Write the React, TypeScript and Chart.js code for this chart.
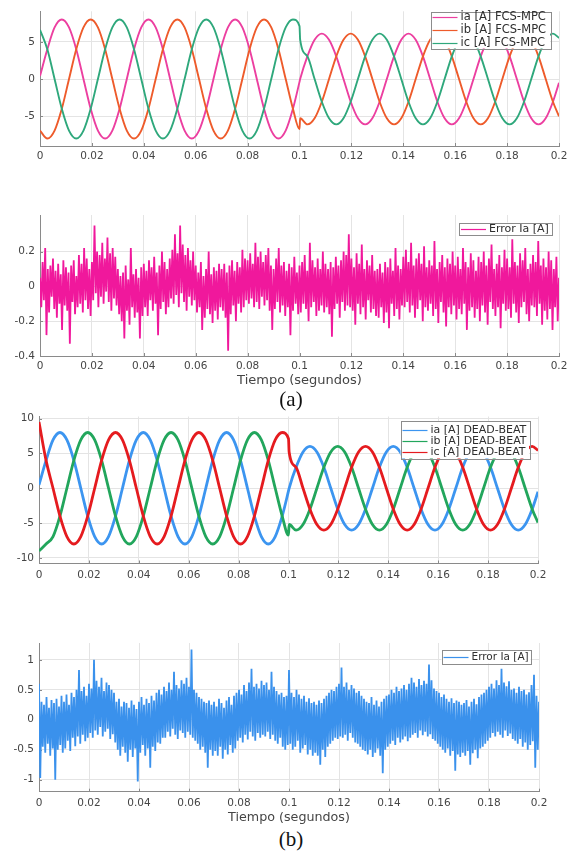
import { useEffect, useRef } from 'react';
import { Chart, registerables } from 'chart.js';

Chart.register(...registerables);

// ---------------- tick values / labels ----------------
const timeTicks = [0, 0.02, 0.04, 0.06, 0.08, 0.1, 0.12, 0.14, 0.16, 0.18, 0.2];
const timeTickLabels = ['0', '0.02', '0.04', '0.06', '0.08', '0.1', '0.12', '0.14', '0.16', '0.18', '0.2'];
const currentTicksFcs = [-5, 0, 5];
const currentTickLabelsFcs = ['-5', '0', '5'];
const errorTicksFcs = [-0.4, -0.2, 0, 0.2];
const errorTickLabelsFcs = ['-0.4', '-0.2', '0', '0.2'];
const currentTicksDb = [-10, -5, 0, 5, 10];
const currentTickLabelsDb = ['-10', '-5', '0', '5', '10'];
const errorTicksDb = [-1, -0.5, 0, 0.5, 1];
const errorTickLabelsDb = ['-1', '-0.5', '0', '0.5', '1'];

// ---------------- phase currents (read at sample instants) ----------------
const phaseTimes = [
  0, 0.00283, 0.00562, 0.0084, 0.01118, 0.01397, 0.01675, 0.01953, 0.02232, 0.0251, 0.02788, 0.03067,
  0.03345, 0.03623, 0.03902, 0.0418, 0.04458, 0.04737, 0.05015, 0.05293, 0.05572, 0.0585, 0.06128, 0.06407,
  0.06685, 0.06963, 0.07242, 0.0752, 0.07798, 0.08077, 0.08355, 0.08633, 0.08912, 0.0919, 0.09468, 0.09747,
  0.1,
  0.10025, 0.10303, 0.10582, 0.1086, 0.11138, 0.11417, 0.11695, 0.11973, 0.12252, 0.1253, 0.12808, 0.13087,
  0.13365, 0.13643, 0.13922, 0.142, 0.14478, 0.14757, 0.15035, 0.15313, 0.15592, 0.1587, 0.16148, 0.16427,
  0.16705, 0.16983, 0.17262, 0.1754, 0.17818, 0.18097, 0.18375, 0.18653, 0.18932, 0.1921, 0.19488, 0.19767,
  0.2,
];

const iaFcs = [
  0.4, 4, 6.93, 8, 6.93, 4, 0, -4, -6.93, -8, -6.93, -4,
  0, 4, 6.93, 8, 6.93, 4, 0, -4, -6.93, -8, -6.93, -4,
  0, 4, 6.93, 8, 6.93, 4, 0, -4, -6.93, -8, -6.93, -4,
  -0.38,
  0, 3.05, 5.28, 6.1, 5.28, 3.05, 0, -3.05, -5.28, -6.1, -5.28, -3.05,
  0, 3.05, 5.28, 6.1, 5.28, 3.05, 0, -3.05, -5.28, -6.1, -5.28, -3.05,
  0, 3.05, 5.28, 6.1, 5.28, 3.05, 0, -3.05, -5.28, -6.1, -5.28, -3.05,
  -0.51,
];
const ibFcs = [
  -6.93, -8, -6.93, -4, 0, 4, 6.93, 8, 6.93, 4, 0, -4,
  -6.93, -8, -6.93, -4, 0, 4, 6.93, 8, 6.93, 4, 0, -4,
  -6.93, -8, -6.93, -4, 0, 4, 6.93, 8, 6.93, 4, 0, -4,
  -6.73,
  -5.28, -6.1, -5.28, -3.05, 0, 3.05, 5.28, 6.1, 5.28, 3.05, 0, -3.05,
  -5.28, -6.1, -5.28, -3.05, 0, 3.05, 5.28, 6.1, 5.28, 3.05, 0, -3.05,
  -5.28, -6.1, -5.28, -3.05, 0, 3.05, 5.28, 6.1, 5.28, 3.05, 0, -3.05,
  -5.01,
];
const icFcs = [
  6.6, 4, 0, -4, -6.93, -8, -6.93, -4, 0, 4, 6.93, 8,
  6.93, 4, 0, -4, -6.93, -8, -6.93, -4, 0, 4, 6.93, 8,
  6.93, 4, 0, -4, -6.93, -8, -6.93, -4, 0, 4, 6.93, 8,
  7.11,
  5.28, 3.05, 0, -3.05, -5.28, -6.1, -5.28, -3.05, 0, 3.05, 5.28, 6.1,
  5.28, 3.05, 0, -3.05, -5.28, -6.1, -5.28, -3.05, 0, 3.05, 5.28, 6.1,
  5.28, 3.05, 0, -3.05, -5.28, -6.1, -5.28, -3.05, 0, 3.05, 5.28, 6.1,
  5.52,
];

const iaDb = [
  0.5, 4, 6.93, 8, 6.93, 4, 0, -4, -6.93, -8, -6.93, -4,
  0, 4, 6.93, 8, 6.93, 4, 0, -4, -6.93, -8, -6.93, -4,
  0, 4, 6.93, 8, 6.93, 4, 0, -4, -6.93, -8, -6.93, -4,
  -0.38,
  0, 3, 5.2, 6, 5.2, 3, 0, -3, -5.2, -6, -5.2, -3,
  0, 3, 5.2, 6, 5.2, 3, 0, -3, -5.2, -6, -5.2, -3,
  0, 3, 5.2, 6, 5.2, 3, 0, -3, -5.2, -6, -5.2, -3,
  -0.5,
];
const ibDb = [
  -9, -8, -6.93, -4, 0, 4, 6.93, 8, 6.93, 4, 0, -4,
  -6.93, -8, -6.93, -4, 0, 4, 6.93, 8, 6.93, 4, 0, -4,
  -6.93, -8, -6.93, -4, 0, 4, 6.93, 8, 6.93, 4, 0, -4,
  -6.73,
  -5.2, -6, -5.2, -3, 0, 3, 5.2, 6, 5.2, 3, 0, -3,
  -5.2, -6, -5.2, -3, 0, 3, 5.2, 6, 5.2, 3, 0, -3,
  -5.2, -6, -5.2, -3, 0, 3, 5.2, 6, 5.2, 3, 0, -3,
  -4.93,
];
const icDb = [
  9.5, 4, 0, -4, -6.93, -8, -6.93, -4, 0, 4, 6.93, 8,
  6.93, 4, 0, -4, -6.93, -8, -6.93, -4, 0, 4, 6.93, 8,
  6.93, 4, 0, -4, -6.93, -8, -6.93, -4, 0, 4, 6.93, 8,
  7.11,
  5.2, 3, 0, -3, -5.2, -6, -5.2, -3, 0, 3, 5.2, 6,
  5.2, 3, 0, -3, -5.2, -6, -5.2, -3, 0, 3, 5.2, 6,
  5.2, 3, 0, -3, -5.2, -6, -5.2, -3, 0, 3, 5.2, 6,
  5.43,
];

// ---------------- tracking errors (sample interval 0.5 ms) ----------------
const errorSampleStep = 0.0005;

const errorIaFcs = [
  0.05, -0.12, 0.14, -0.08, 0.22, -0.28, 0.1, -0.15, 0.12, -0.06, 0.16, -0.13, 0.09, -0.18, 0.13, -0.1, 0.07, -0.25, 0.15, -0.11,
  0.11, -0.14, 0.08, -0.33, 0.12, -0.09, 0.15, -0.16, 0.06, -0.12, 0.18, -0.1, 0.13, -0.15, 0.22, -0.08, 0.16, -0.13, 0.1, -0.17,
  0.14, -0.08, 0.35, -0.04, 0.2, -0.12, 0.18, -0.06, 0.25, -0.1, 0.16, -0.03, 0.28, -0.09, 0.19, -0.14, 0.22, -0.07, 0.17, -0.11,
  0.1, -0.16, 0.06, -0.2, 0.08, -0.3, 0.12, -0.14, 0.04, -0.22, 0.22, -0.12, 0.07, -0.18, 0.1, -0.15, 0.05, -0.3, 0.11, -0.17,
  0.13, -0.12, 0.09, -0.17, 0.15, -0.08, 0.11, -0.14, 0.17, -0.1, 0.08, -0.28, 0.12, -0.13, 0.2, -0.09, 0.14, -0.16, 0.1, -0.12,
  0.16, -0.07, 0.21, -0.1, 0.3, -0.05, 0.19, -0.12, 0.35, -0.04, 0.24, -0.09, 0.18, -0.14, 0.22, -0.06, 0.15, -0.11, 0.2, -0.08,
  0.12, -0.15, 0.08, -0.12, 0.14, -0.25, 0.06, -0.18, 0.1, -0.13, 0.2, -0.16, 0.07, -0.21, 0.11, -0.14, 0.09, -0.19, 0.13, -0.12,
  0.1, -0.14, 0.13, -0.18, 0.08, -0.37, 0.12, -0.16, 0.15, -0.11, 0.09, -0.2, 0.14, -0.1, 0.11, -0.15, 0.21, -0.12, 0.16, -0.08,
  0.15, -0.1, 0.19, -0.07, 0.13, -0.12, 0.25, -0.09, 0.17, -0.13, 0.2, -0.06, 0.14, -0.11, 0.18, -0.08, 0.22, -0.14, 0.12, -0.25,
  0.1, -0.13, 0.16, -0.09, 0.22, -0.15, 0.12, -0.11, 0.14, -0.17, 0.09, -0.12, 0.13, -0.28, 0.11, -0.14, 0.17, -0.1, 0.08, -0.16,
  0.12, -0.15, 0.14, -0.1, 0.18, -0.13, 0.09, -0.2, 0.25, -0.12, 0.15, -0.09, 0.11, -0.17, 0.16, -0.14, 0.1, -0.11, 0.2, -0.15,
  0.13, -0.12, 0.1, -0.16, 0.14, -0.29, 0.11, -0.13, 0.17, -0.1, 0.12, -0.18, 0.15, -0.09, 0.2, -0.14, 0.18, -0.11, 0.3, -0.12,
  0.16, -0.14, 0.11, -0.22, 0.19, -0.1, 0.13, -0.16, 0.24, -0.12, 0.1, -0.19, 0.15, -0.08, 0.12, -0.15, 0.18, -0.13, 0.09, -0.17,
  0.1, -0.18, 0.13, -0.12, 0.08, -0.21, 0.14, -0.15, 0.11, -0.24, 0.16, -0.1, 0.09, -0.17, 0.22, -0.13, 0.12, -0.19, 0.1, -0.11,
  0.17, -0.12, 0.21, -0.09, 0.14, -0.15, 0.25, -0.11, 0.12, -0.18, 0.16, -0.13, 0.19, -0.08, 0.13, -0.2, 0.23, -0.12, 0.11, -0.14,
  0.15, -0.1, 0.12, -0.17, 0.26, -0.13, 0.1, -0.21, 0.14, -0.09, 0.18, -0.15, 0.11, -0.23, 0.16, -0.12, 0.13, -0.16, 0.2, -0.11,
  0.12, -0.19, 0.17, -0.13, 0.1, -0.16, 0.22, -0.1, 0.14, -0.25, 0.11, -0.14, 0.19, -0.12, 0.15, -0.18, 0.09, -0.13, 0.17, -0.2,
  0.14, -0.11, 0.2, -0.15, 0.12, -0.22, 0.16, -0.09, 0.24, -0.13, 0.1, -0.17, 0.13, -0.12, 0.18, -0.24, 0.11, -0.1, 0.21, -0.14,
  0.16, -0.13, 0.11, -0.18, 0.27, -0.1, 0.14, -0.15, 0.12, -0.21, 0.19, -0.12, 0.15, -0.09, 0.22, -0.16, 0.1, -0.2, 0.13, -0.11,
  0.18, -0.12, 0.14, -0.17, 0.26, -0.1, 0.12, -0.22, 0.16, -0.14, 0.11, -0.19, 0.2, -0.13, 0.15, -0.25, 0.1, -0.12, 0.17, -0.2,
  0.05,
];

const errorIaDb = [
  0.6, -0.97, 0.3, -0.45, 0.25, -0.55, 0.38, -0.4, 0.2, -0.6, 0.33, -0.48, 0.28, -1.0, 0.35, -0.5, 0.22, -0.42, 0.4, -0.55,
  0.3, -0.48, 0.42, -0.35, 0.25, -0.52, 0.45, -0.3, 0.38, -0.44, 0.5, -0.28, 0.83, -0.4, 0.48, -0.25, 0.55, -0.36, 0.4, -0.3,
  0.6, -0.22, 0.52, -0.3, 1.0, -0.18, 0.65, -0.25, 0.55, -0.12, 0.7, -0.28, 0.48, -0.2, 0.62, -0.15, 0.58, -0.32, 0.5, -0.24,
  0.45, -0.38, 0.3, -0.5, 0.35, -0.6, 0.22, -0.45, 0.3, -0.55, 0.28, -0.7, 0.2, -0.5, 0.32, -0.62, 0.25, -0.48, 0.18, -1.03,
  0.3, -0.55, 0.38, -0.42, 0.25, -0.6, 0.35, -0.48, 0.28, -0.8, 0.4, -0.45, 0.32, -0.52, 0.45, -0.38, 0.5, -0.4, 0.42, -0.3,
  0.55, -0.3, 0.48, -0.2, 0.62, -0.28, 0.5, -0.15, 0.8, -0.25, 0.58, -0.32, 0.52, -0.18, 0.66, -0.22, 0.6, -0.3, 0.7, -0.2,
  0.55, -0.25, 1.17, -0.3, 0.5, -0.35, 0.45, -0.4, 0.38, -0.5, 0.35, -0.45, 0.3, -0.55, 0.28, -0.8, 0.32, -0.5, 0.25, -0.6,
  0.3, -0.52, 0.22, -0.6, 0.35, -0.45, 0.28, -0.65, 0.2, -0.5, 0.32, -0.58, 0.38, -0.42, 0.25, -0.55, 0.4, -0.48, 0.45, -0.35,
  0.5, -0.3, 0.42, -0.38, 0.58, -0.25, 0.48, -0.33, 0.62, -0.2, 0.85, -0.28, 0.55, -0.35, 0.6, -0.22, 0.52, -0.3, 0.65, -0.25,
  0.58, -0.28, 0.62, -0.2, 0.5, -0.32, 0.8, -0.25, 0.55, -0.35, 0.48, -0.4, 0.42, -0.3, 0.45, -0.45, 0.38, -0.5, 0.4, -0.42,
  0.83, -0.4, 0.45, -0.5, 0.38, -0.45, 0.5, -0.35, 0.42, -0.55, 0.35, -0.48, 0.4, -0.42, 0.3, -0.58, 0.36, -0.5, 0.28, -0.6,
  0.3, -0.55, 0.25, -0.6, 0.32, -0.75, 0.28, -0.5, 0.35, -0.62, 0.4, -0.45, 0.45, -0.4, 0.5, -0.35, 0.48, -0.3, 0.55, -0.32,
  0.6, -0.28, 0.87, -0.3, 0.55, -0.25, 0.62, -0.35, 0.5, -0.22, 0.58, -0.3, 0.52, -0.38, 0.45, -0.4, 0.48, -0.45, 0.4, -0.5,
  0.35, -0.52, 0.3, -0.58, 0.28, -0.5, 0.38, -0.62, 0.25, -0.55, 0.32, -0.48, 0.22, -0.6, 0.3, -0.89, 0.35, -0.5, 0.4, -0.45,
  0.42, -0.4, 0.5, -0.35, 0.45, -0.42, 0.55, -0.3, 0.48, -0.38, 0.52, -0.33, 0.58, -0.28, 0.5, -0.36, 0.6, -0.3, 0.7, -0.25,
  0.62, -0.22, 0.55, -0.3, 0.68, -0.18, 0.58, -0.26, 0.65, -0.2, 0.6, -0.28, 0.92, -0.24, 0.66, -0.32, 0.52, -0.35, 0.48, -0.4,
  0.45, -0.45, 0.38, -0.5, 0.42, -0.55, 0.35, -0.48, 0.3, -0.6, 0.36, -0.52, 0.28, -0.85, 0.32, -0.58, 0.3, -0.62, 0.25, -0.55,
  0.28, -0.6, 0.33, -0.52, 0.22, -0.75, 0.3, -0.56, 0.35, -0.5, 0.26, -0.64, 0.38, -0.48, 0.42, -0.45, 0.45, -0.4, 0.5, -0.35,
  0.55, -0.3, 0.6, -0.22, 0.52, -0.28, 0.66, -0.2, 0.58, -0.25, 0.85, -0.3, 0.62, -0.18, 0.56, -0.27, 0.64, -0.23, 0.5, -0.32,
  0.52, -0.35, 0.45, -0.4, 0.55, -0.32, 0.48, -0.45, 0.5, -0.38, 0.42, -0.5, 0.46, -0.42, 0.58, -0.36, 0.75, -0.8, 0.4, -0.5,
  0.3,
];

// ---------------- rendering ----------------
const FONT = '"DejaVu Sans", "Liberation Sans", sans-serif';
const AXIS_COLOR = '#8a8a8a';
const GRID_COLOR = '#e4e4e4';
const TEXT_COLOR = '#454545';

type Series = { label: string; color: string; width: number; times: number[]; values: number[]; smooth: boolean };
type LegendSpec = { left: number; top: number; width: number; height: number; rowStart: number; rowGap: number; fontSize: number };
type PanelSpec = {
  top: number; height: number; padTop: number; padRight: number; yAxisWidth: number; xAxisHeight: number;
  xTickPadding: number; yMin: number; yMax: number; yTicks: number[]; yLabels: string[];
  title?: string; titleSize?: number; series: Series[]; legend: LegendSpec;
};

const errorTimesFcs = errorIaFcs.map((_, i) => i * errorSampleStep);
const errorTimesDb = errorIaDb.map((_, i) => i * errorSampleStep);

const panels: PanelSpec[] = [
  {
    top: 0, height: 172, padTop: 7, padRight: 14, yAxisWidth: 40, xAxisHeight: 26, xTickPadding: 4.4,
    yMin: -9, yMax: 9.1, yTicks: currentTicksFcs, yLabels: currentTickLabelsFcs,
    series: [
      { label: 'ia [A] FCS-MPC', color: '#ec3fa0', width: 1.9, times: phaseTimes, values: iaFcs, smooth: true },
      { label: 'ib [A] FCS-MPC', color: '#ee5b2b', width: 1.9, times: phaseTimes, values: ibFcs, smooth: true },
      { label: 'ic [A] FCS-MPC', color: '#2fa87c', width: 1.9, times: phaseTimes, values: icFcs, smooth: true },
    ],
    legend: { left: 430.5, top: 11.5, width: 119.5, height: 37, rowStart: 5.5, rowGap: 13, fontSize: 11.5 },
  },
  {
    top: 200, height: 188, padTop: 15, padRight: 14, yAxisWidth: 40, xAxisHeight: 32, xTickPadding: 4.4,
    yMin: -0.4, yMax: 0.41, yTicks: errorTicksFcs, yLabels: errorTickLabelsFcs,
    title: 'Tiempo (segundos)', titleSize: 13,
    series: [
      { label: 'Error Ia [A]', color: '#f0189c', width: 1.8, times: errorTimesFcs, values: errorIaFcs, smooth: false },
    ],
    legend: { left: 459, top: 222.5, width: 93, height: 12, rowStart: 6, rowGap: 0, fontSize: 11 },
  },
  {
    top: 405, height: 180, padTop: 11.5, padRight: 35, yAxisWidth: 39, xAxisHeight: 21.5, xTickPadding: 5.7,
    yMin: -10.8, yMax: 10.3, yTicks: currentTicksDb, yLabels: currentTickLabelsDb,
    series: [
      { label: 'ia [A] DEAD-BEAT', color: '#3c95f0', width: 2.8, times: phaseTimes, values: iaDb, smooth: true },
      { label: 'ib [A] DEAD-BEAT', color: '#22a65c', width: 2.8, times: phaseTimes, values: ibDb, smooth: true },
      { label: 'ic [A] DEAD-BEAT', color: '#e51b1f', width: 2.8, times: phaseTimes, values: icDb, smooth: true },
    ],
    legend: { left: 400.5, top: 421, width: 128.5, height: 37.5, rowStart: 8.5, rowGap: 11, fontSize: 11 },
  },
  {
    top: 630, height: 195, padTop: 13, padRight: 34, yAxisWidth: 39, xAxisHeight: 33.3, xTickPadding: 5.3,
    yMin: -1.2, yMax: 1.28, yTicks: errorTicksDb, yLabels: errorTickLabelsDb,
    title: 'Tiempo (segundos)', titleSize: 12.7,
    series: [
      { label: 'Error Ia [A]', color: '#3a91ec', width: 1.8, times: errorTimesDb, values: errorIaDb, smooth: false },
    ],
    legend: { left: 441.5, top: 650, width: 89, height: 13.5, rowStart: 6.8, rowGap: 0, fontSize: 10.5 },
  },
];

function innerTicksPlugin() {
  return {
    id: 'innerTicks',
    beforeDatasetsDraw(chart: any) {
      const { ctx, chartArea: a, scales } = chart;
      ctx.save();
      ctx.strokeStyle = AXIS_COLOR;
      ctx.lineWidth = 1;
      ctx.beginPath();
      for (const t of scales.x.ticks) {
        const px = Math.round(scales.x.getPixelForValue(t.value)) + 0.5;
        ctx.moveTo(px, a.bottom);
        ctx.lineTo(px, a.bottom - 3);
      }
      for (const t of scales.y.ticks) {
        const py = Math.round(scales.y.getPixelForValue(t.value)) + 0.5;
        ctx.moveTo(a.left, py);
        ctx.lineTo(a.left + 3, py);
      }
      ctx.stroke();
      ctx.restore();
    },
  };
}

function boxLegendPlugin(spec: LegendSpec, canvasTop: number, series: Series[]) {
  return {
    id: 'boxLegend',
    afterDraw(chart: any) {
      const ctx = chart.ctx as CanvasRenderingContext2D;
      const left = spec.left;
      const top = spec.top - canvasTop;
      ctx.save();
      ctx.fillStyle = '#ffffff';
      ctx.fillRect(left, top, spec.width, spec.height);
      ctx.strokeStyle = '#8c8c8c';
      ctx.lineWidth = 1;
      ctx.strokeRect(Math.round(left) + 0.5, Math.round(top) + 0.5, Math.round(spec.width), Math.round(spec.height));
      ctx.font = `${spec.fontSize}px ${FONT}`;
      ctx.textBaseline = 'middle';
      ctx.textAlign = 'left';
      series.forEach((s, i) => {
        const y = Math.round(top + spec.rowStart + i * spec.rowGap) + 0.5;
        ctx.beginPath();
        ctx.strokeStyle = s.color;
        ctx.lineWidth = 1.2;
        ctx.moveTo(left + 2, y);
        ctx.lineTo(left + 27, y);
        ctx.stroke();
        ctx.fillStyle = '#2e2e2e';
        ctx.fillText(s.label, left + 30, y);
      });
      ctx.restore();
    },
  };
}

function Panel({ spec }: { spec: PanelSpec }) {
  const ref = useRef<HTMLCanvasElement | null>(null);
  useEffect(() => {
    if (!ref.current) return;
    const n = spec.series.length;
    const chart = new Chart(ref.current, {
      type: 'line',
      data: {
        datasets: spec.series.map((s, i) => ({
          label: s.label,
          data: s.times.map((t, j) => ({ x: t, y: s.values[j] })),
          borderColor: s.color,
          backgroundColor: s.color,
          borderWidth: s.width,
          pointRadius: 0,
          pointHoverRadius: 0,
          fill: false,
          tension: s.smooth ? 0.4 : 0,
          cubicInterpolationMode: s.smooth ? 'monotone' : 'default',
          order: n - i,
        })),
      },
      options: {
        responsive: false,
        animation: false,
        devicePixelRatio: 1,
        events: [],
        layout: { padding: { top: spec.padTop, right: spec.padRight, left: 0, bottom: 0 } },
        plugins: { legend: { display: false }, tooltip: { enabled: false }, title: { display: false } },
        scales: {
          x: {
            type: 'linear',
            min: 0,
            max: 0.2,
            afterBuildTicks: (axis: any) => { axis.ticks = timeTicks.map((v) => ({ value: v })); },
            afterFit: (axis: any) => { axis.height = spec.xAxisHeight; },
            ticks: {
              autoSkip: false,
              maxRotation: 0,
              minRotation: 0,
              padding: spec.xTickPadding,
              color: TEXT_COLOR,
              font: { family: FONT, size: 10.5 },
              callback: (_v: any, i: number) => timeTickLabels[i],
            },
            grid: { color: GRID_COLOR, drawTicks: false, lineWidth: 1 },
            border: { display: true, color: AXIS_COLOR, width: 1 },
            title: spec.title
              ? { display: true, text: spec.title, color: TEXT_COLOR, padding: 0, font: { family: FONT, size: spec.titleSize } }
              : { display: false },
          },
          y: {
            type: 'linear',
            min: spec.yMin,
            max: spec.yMax,
            afterBuildTicks: (axis: any) => { axis.ticks = spec.yTicks.map((v) => ({ value: v })); },
            afterFit: (axis: any) => { axis.width = spec.yAxisWidth; },
            ticks: {
              padding: 5,
              color: TEXT_COLOR,
              font: { family: FONT, size: 10.5 },
              callback: (_v: any, i: number) => spec.yLabels[i],
            },
            grid: { color: GRID_COLOR, drawTicks: false, lineWidth: 1 },
            border: { display: true, color: AXIS_COLOR, width: 1 },
          },
        },
      } as any,
      plugins: [innerTicksPlugin(), boxLegendPlugin(spec.legend, spec.top, spec.series)],
    });
    return () => chart.destroy();
  }, [spec]);
  return (
    <canvas
      ref={ref}
      width={573}
      height={spec.height}
      style={{ position: 'absolute', left: 0, top: spec.top, width: 573, height: spec.height }}
    />
  );
}

const captionStyle = {
  position: 'absolute' as const,
  left: 278,
  width: 26,
  textAlign: 'center' as const,
  fontFamily: '"Liberation Serif", "Times New Roman", serif',
  fontSize: 21,
  lineHeight: '21px',
  color: '#111',
  whiteSpace: 'nowrap' as const,
};

export default function App() {
  return (
    <div style={{ position: 'absolute', left: 0, top: 0, width: 573, height: 852, background: '#fff', overflow: 'hidden' }}>
      {panels.map((p, i) => (
        <Panel key={i} spec={p} />
      ))}
      <div style={{ ...captionStyle, top: 389 }}>(a)</div>
      <div style={{ ...captionStyle, top: 828.5 }}>(b)</div>
    </div>
  );
}
